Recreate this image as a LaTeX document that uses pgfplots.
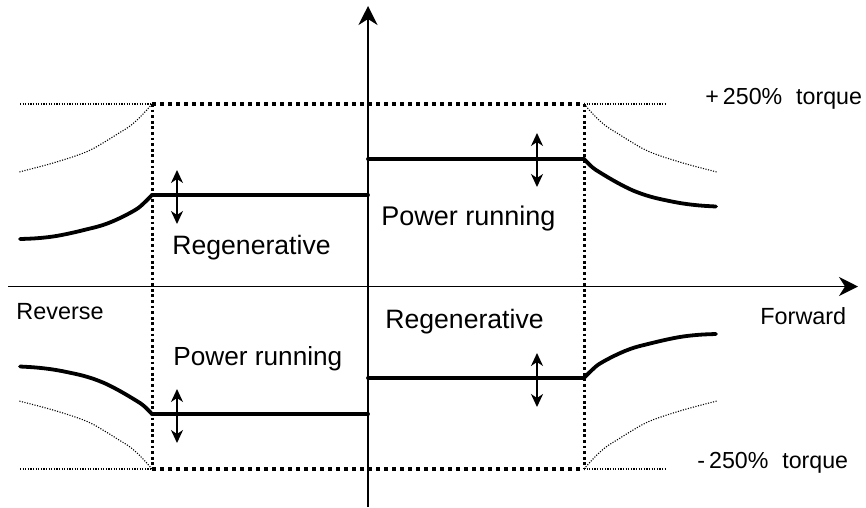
\documentclass[border=0pt]{standalone}
\usepackage{pgfplots}
\pgfplotsset{compat=1.18}
\usepackage{fontspec}
\setmainfont{Liberation Sans}
\usetikzlibrary{arrows.meta}
\begin{document}
\begin{tikzpicture}
\begin{axis}[
  width=433pt, height=253.5pt, scale only axis,
  xmin=0, xmax=866, ymin=0, ymax=507, y dir=reverse,
  hide axis, clip=false,
]
\path (rel axis cs:0,0) rectangle (rel axis cs:1,1);
% axes
\addplot[black, line width=0.85pt, -{Stealth[length=9.5pt,width=9.5pt,inset=3pt]}] coordinates {(8,286.5) (858,286.5)};
\addplot[black, line width=0.85pt, -{Stealth[length=9.5pt,width=9.5pt,inset=3pt]}] coordinates {(368,507) (368,6)};
% thin dotted extensions
\pgfplotsset{thindot/.style={black, line width=0.55pt, dash pattern=on 0.55pt off 0.75pt}}
\addplot[thindot] coordinates {(20,104) (152,104)};
\addplot[thindot] coordinates {(584,104) (667,104)};
\addplot[thindot] coordinates {(20,469) (152,469)};
\addplot[thindot] coordinates {(584,469) (667,469)};
% dotted curves
\addplot[thindot, smooth, tension=0.6] coordinates {(152,104) (144,113) (136,121) (128,127.5) (119,133) (107,140.5) (86,152) (53,163) (19,172)};
\addplot[thindot, smooth, tension=0.6] coordinates {(584,104) (592,113) (600,121) (608,127.5) (617,133) (629,140.5) (650,152) (683,163) (717,172)};
\addplot[thindot, smooth, tension=0.6] coordinates {(152,469) (144,460) (136,452) (128,445.5) (119,440) (107,432.5) (86,421) (53,410) (19,401)};
\addplot[thindot, smooth, tension=0.6] coordinates {(584,469) (592,460) (600,452) (608,445.5) (617,440) (629,432.5) (650,421) (683,410) (717,401)};
% thick dotted box
\addplot[black, line width=2pt, dash pattern=on 2pt off 2pt] coordinates {(152,104) (584,104)};
\addplot[black, line width=2pt, dash pattern=on 2pt off 2pt] coordinates {(152,469) (584,469)};
\addplot[black, line width=1.5pt, dash pattern=on 1.4pt off 1.4pt] coordinates {(152,104) (152,469)};
\addplot[black, line width=1.5pt, dash pattern=on 1.4pt off 1.4pt] coordinates {(584,104) (584,469)};
% solid torque limits
\pgfplotsset{solidlim/.style={black, line width=1.9pt, line cap=round, line join=round}}
\addplot[solidlim, smooth, tension=0.6] coordinates {(20,239) (36,238.3) (53,236.5) (69,233.5) (86,229.5) (103,225) (119,218.5) (136,209.5) (144,203) (152,195)};
\addplot[solidlim] coordinates {(152,195) (368,195)};
\addplot[solidlim] coordinates {(368,159) (584,159)};
\addplot[solidlim, smooth, tension=0.6] coordinates {(584,159) (592,167) (600,172.5) (617,182.5) (633,190.5) (650,196.5) (667,200.5) (683,203.5) (700,205.5) (716,206.5)};
\addplot[solidlim, smooth, tension=0.6] coordinates {(20,366.5) (36,367.5) (53,369.5) (69,372.5) (86,376.5) (103,382.5) (119,390.5) (136,400.5) (144,406) (152,414)};
\addplot[solidlim] coordinates {(152,414) (368,414)};
\addplot[solidlim] coordinates {(368,378) (584,378)};
\addplot[solidlim, smooth, tension=0.6] coordinates {(584,378) (592,370) (600,363.5) (617,354.5) (633,348) (650,343.5) (667,339.5) (683,336.5) (700,334.7) (716,334)};
% double arrows
\pgfplotsset{dbl/.style={black, line width=0.9pt, {Stealth[length=6.5pt,width=6pt,inset=2pt]}-{Stealth[length=6.5pt,width=6pt,inset=2pt]}}}
\addplot[dbl] coordinates {(177,170) (177,224)};
\addplot[dbl] coordinates {(537,133) (537,187)};
\addplot[dbl] coordinates {(177,389) (177,443)};
\addplot[dbl] coordinates {(537,353) (537,407)};
% labels
\node[anchor=base west, inner sep=0pt, font=\fontsize{11.6}{14}\selectfont] at (axis cs:705,104) {+\kern2pt250\%\hspace{0.6em}torque};
\node[anchor=base west, inner sep=0pt, font=\fontsize{11.6}{14}\selectfont] at (axis cs:697,468) {-\kern2pt250\%\hspace{0.6em}torque};
\node[anchor=base west, inner sep=0pt, font=\fontsize{11.7}{14}\selectfont] at (axis cs:16,319) {Reverse};
\node[anchor=base west, inner sep=0pt, font=\fontsize{11.7}{14}\selectfont] at (axis cs:760,324) {Forward};
\node[anchor=base west, inner sep=0pt, font=\fontsize{13.3}{16}\selectfont] at (axis cs:172,254) {Regenerative};
\node[anchor=base west, inner sep=0pt, font=\fontsize{13.5}{16}\selectfont] at (axis cs:381,225) {Power running};
\node[anchor=base west, inner sep=0pt, font=\fontsize{13.3}{16}\selectfont] at (axis cs:385,328) {Regenerative};
\node[anchor=base west, inner sep=0pt, font=\fontsize{13.1}{16}\selectfont] at (axis cs:173,365) {Power running};
\end{axis}
\end{tikzpicture}
\end{document}
